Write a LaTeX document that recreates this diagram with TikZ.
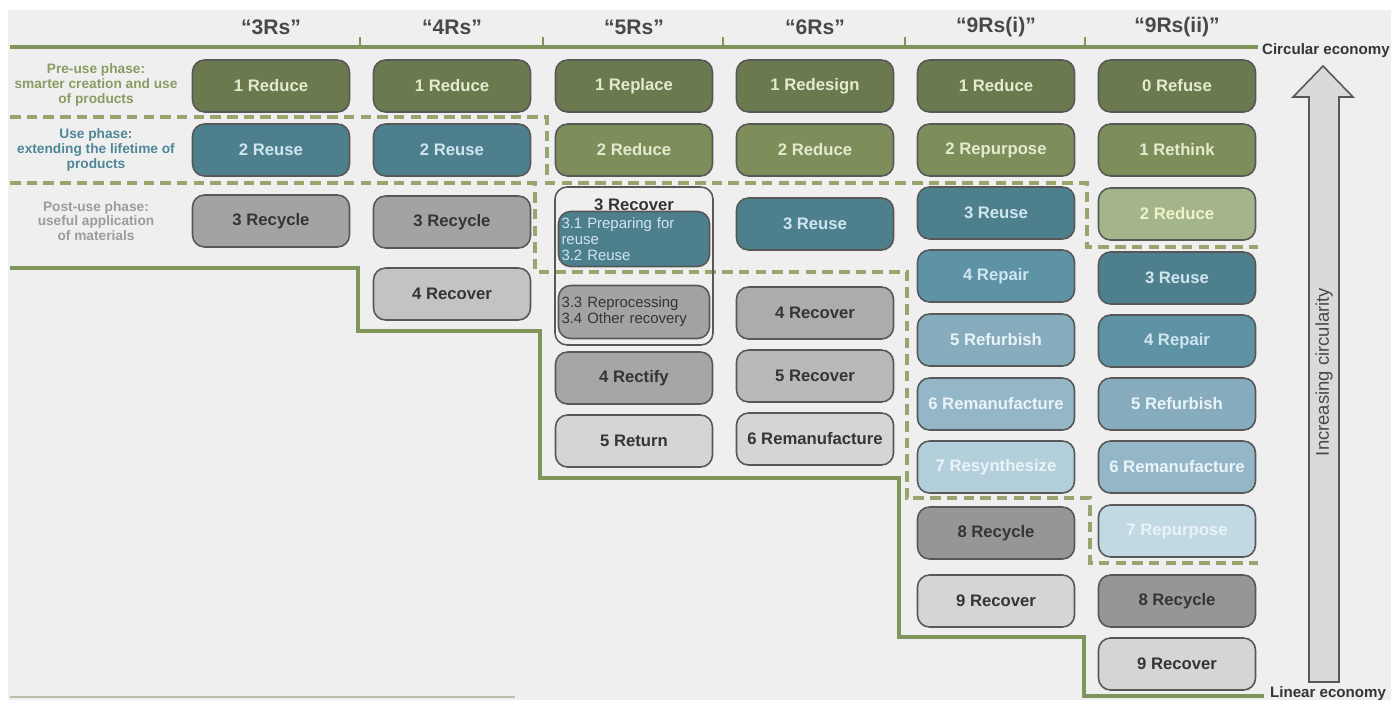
\documentclass[tikz,border=0pt]{standalone}
\usepackage{fontspec}
\setmainfont{Liberation Sans}
\definecolor{bgcol}{HTML}{EFEFEF}
\definecolor{boxline}{HTML}{585858}
\definecolor{greenline}{HTML}{7F955B}
\definecolor{dashline}{HTML}{99A56F}
\definecolor{bottomline}{HTML}{BABFA8}
\definecolor{oliveA}{HTML}{6B794E}
\definecolor{oliveB}{HTML}{7E8E5A}
\definecolor{oliveC}{HTML}{A5B58B}
\definecolor{tealA}{HTML}{4E7F8D}
\definecolor{tealB}{HTML}{5E92A5}
\definecolor{tealC}{HTML}{86ACBD}
\definecolor{tealD}{HTML}{93B7C7}
\definecolor{tealE}{HTML}{B2CFDB}
\definecolor{greyA}{HTML}{A3A3A3}
\definecolor{greyB}{HTML}{B9B9B9}
\definecolor{greyC}{HTML}{D5D5D5}
\definecolor{olvtext}{HTML}{E3EBCF}
\definecolor{paleolvtext}{HTML}{EEF3C8}
\definecolor{tltext}{HTML}{CFE6EF}
\definecolor{paletext}{HTML}{EAF4F8}
\definecolor{darktext}{HTML}{353535}
\definecolor{prelabel}{HTML}{8A9C63}
\definecolor{uselabel}{HTML}{4F8797}
\definecolor{postlabel}{HTML}{9C9C9C}
\definecolor{arrowfill}{HTML}{DADADA}

\begin{document}
\begin{tikzpicture}[x=0.02cm, y=-0.02cm,
		rbox/.style={draw=boxline, line width=0.9pt, rounded corners=0.24cm, minimum width=3.14cm, minimum height=1.04cm, inner sep=1pt, font=\bfseries\fontsize{9.5}{11}\selectfont},
		prebox/.style={rbox, fill=oliveA, text=olvtext},
		prebox2/.style={rbox, fill=oliveB, text=olvtext},
		prebox3/.style={rbox, fill=oliveC, text=paleolvtext},
		reusebox/.style={rbox, fill=tealA, text=tltext},
		repairbox/.style={rbox, fill=tealB, text=tltext},
		refurbbox/.style={rbox, fill=tealC, text=paletext},
		remanbox/.style={rbox, fill=tealD, text=paletext},
		resynbox/.style={rbox, fill=tealE, text=paletext},
		postbox/.style={rbox, fill=greyA, text=darktext},
		postbox2/.style={rbox, fill=greyB, text=darktext},
		postbox3/.style={rbox, fill=greyC, text=darktext},
		header/.style={font=\bfseries\fontsize{12}{14}\selectfont, text=darktext!90},
		phase/.style={align=center, font=\bfseries\fontsize{7.8}{8.4}\selectfont},
		subtext/.style={align=left, text width=2.9cm, font=\fontsize{8.5}{9.2}\selectfont},
		greenrule/.style={greenline, line width=1.8pt},
		phaseline/.style={dashline, line width=2pt, dash pattern=on 6pt off 3.5pt}]
	\useasboundingbox (0,0) rectangle (1391,700);
	\fill[bgcol] (8,10) rectangle (1391,700);

	\draw[greenrule] (10,47) -- (1258,47);
	\draw[greenrule, line width=1.2pt] (360,47) -- (360,37) (543,47) -- (543,37) (723,47) -- (723,37) (905,47) -- (905,37) (1085,47) -- (1085,37);
	\node[header] (h3) at (271,27) {“3Rs”};
	\node[header] (h4) at (452,27) {“4Rs”};
	\node[header] (h5) at (634,27) {“5Rs”};
	\node[header] (h6) at (815,27) {“6Rs”};
	\node[header] (h9a) at (996,27) {“9Rs(i)”};
	\node[header] (h9b) at (1177,27) {“9Rs(ii)”};
	\node[anchor=west, inner sep=1pt, font=\bfseries\fontsize{8.6}{10}\selectfont, text=darktext] (circ) at (1260,51) {Circular economy};
	\node[anchor=west, inner sep=1pt, font=\bfseries\fontsize{8.6}{10}\selectfont, text=darktext] (lin) at (1268,694) {Linear economy};

	\node[phase, text=prelabel] (pre) at (96,85) {Pre-use phase:\\smarter creation and use\\of products};
	\node[phase, text=uselabel] (use) at (96,150) {Use phase:\\extending the lifetime of\\products};
	\node[phase, text=postlabel] (post) at (96,221) {Post-use phase:\\useful application\\of materials};

	\draw[phaseline] (10,117) -- (547,117) -- (547,183) -- (1087,183) -- (1087,247) -- (1258,247);
	\draw[phaseline] (10,183) -- (535,183) -- (535,272) -- (907,272) -- (907,498) -- (1090,498) -- (1090,563) -- (1258,563);
	\draw[greenrule] (10,268) -- (358,268) -- (358,331) -- (540,331) -- (540,478) -- (899,478) -- (899,637) -- (1084,637) -- (1084,696) -- (1264,696);
	\draw[bottomline, line width=1.2pt] (10,697) -- (515,697);

	\node[prebox] (three1) at (271,86) {1 Reduce};
	\node[reusebox] (three2) at (271,150) {2 Reuse};
	\node[postbox] (three3) at (271,221) {3 Recycle};

	\node[prebox] (four1) at (452,86) {1 Reduce};
	\node[reusebox] (four2) at (452,150) {2 Reuse};
	\node[postbox] (four3) at (452,222) {3 Recycle};
	\node[postbox2, fill=greyB!85!white] (four4) at (452,294) {4 Recover};

	\node[prebox] (five1) at (634,86) {1 Replace};
	\node[prebox2] (five2) at (634,150) {2 Reduce};
	\node[draw=boxline, line width=0.9pt, rounded corners=0.24cm, minimum width=3.16cm, minimum height=3.16cm] (five3) at (634,266) {};
	\node[font=\bfseries\fontsize{9.5}{11}\selectfont, text=darktext] (five3t) at (634,205) {3 Recover};
	\node[rbox, fill=tealA, text=tltext, minimum width=3.02cm, minimum height=1.1cm, subtext] (five31) at (634,239) {3.1 Preparing for\\reuse\\3.2 Reuse};
	\node[rbox, fill=greyA, text=darktext, minimum width=3.02cm, minimum height=1.06cm, subtext] (five33) at (634,312) {3.3 Reprocessing\\3.4 Other recovery};
	\node[postbox2, fill=greyB!90!black] (five4) at (634,378) {4 Rectify};
	\node[postbox3] (five5) at (634,441) {5 Return};

	\node[prebox] (six1) at (815,86) {1 Redesign};
	\node[prebox2] (six2) at (815,150) {2 Reduce};
	\node[reusebox] (six3) at (815,224) {3 Reuse};
	\node[postbox, fill=greyA!90!white] (six4) at (815,313) {4 Recover};
	\node[postbox2] (six5) at (815,376) {5 Recover};
	\node[postbox3] (six6) at (815,439) {6 Remanufacture};

	\node[prebox] (ninea1) at (996,86) {1 Reduce};
	\node[prebox2] (ninea2) at (996,150) {2 Repurpose};
	\node[reusebox] (ninea3) at (996,213) {3 Reuse};
	\node[repairbox] (ninea4) at (996,276) {4 Repair};
	\node[refurbbox] (ninea5) at (996,340) {5 Refurbish};
	\node[remanbox] (ninea6) at (996,404) {6 Remanufacture};
	\node[resynbox] (ninea7) at (996,467) {7 Resynthesize};
	\node[postbox, fill=greyA!92!black] (ninea8) at (996,533) {8 Recycle};
	\node[postbox3] (ninea9) at (996,601) {9 Recover};

	\node[prebox] (nineb0) at (1177,86) {0 Refuse};
	\node[prebox2] (nineb1) at (1177,150) {1 Rethink};
	\node[prebox3] (nineb2) at (1177,214) {2 Reduce};
	\node[reusebox] (nineb3) at (1177,278) {3 Reuse};
	\node[repairbox] (nineb4) at (1177,341) {4 Repair};
	\node[refurbbox] (nineb5) at (1177,404) {5 Refurbish};
	\node[remanbox] (nineb6) at (1177,467) {6 Remanufacture};
	\node[resynbox, fill=tealE!80!white] (nineb7) at (1177,531) {7 Repurpose};
	\node[postbox, fill=greyA!92!black] (nineb8) at (1177,601) {8 Recycle};
	\node[postbox3] (nineb9) at (1177,664) {9 Recover};

	\draw[boxline, fill=arrowfill, line width=0.9pt] (1309,682) -- (1309,97) -- (1293,97) -- (1323,66) -- (1353,97) -- (1339,97) -- (1339,682) -- cycle;
	\node[rotate=90, font=\fontsize{10.5}{12}\selectfont, text=darktext!90] (incr) at (1324,372) {Increasing circularity};
\end{tikzpicture}
\end{document}
